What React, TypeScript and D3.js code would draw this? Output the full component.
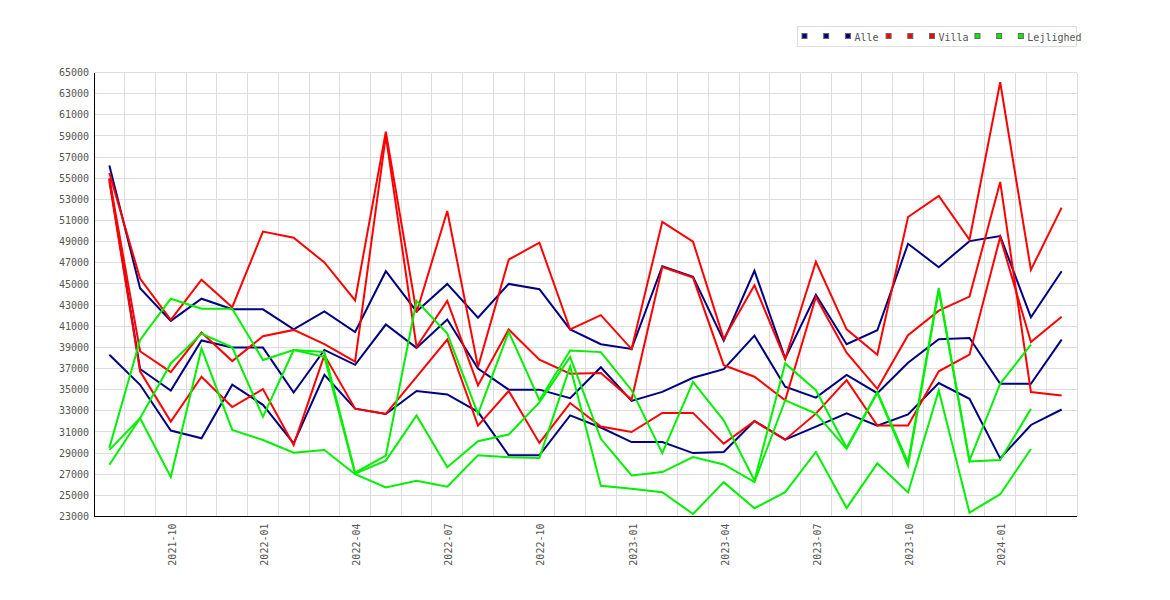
import * as d3 from "d3";

// monthly points, Aug 2021 - Mar 2024
const months = [
  "2021-08", "2021-09", "2021-10", "2021-11", "2021-12",
  "2022-01", "2022-02", "2022-03", "2022-04", "2022-05", "2022-06",
  "2022-07", "2022-08", "2022-09", "2022-10", "2022-11", "2022-12",
  "2023-01", "2023-02", "2023-03", "2023-04", "2023-05", "2023-06",
  "2023-07", "2023-08", "2023-09", "2023-10", "2023-11", "2023-12",
  "2024-01", "2024-02", "2024-03",
];

// Alle (navy)
const alleHigh = [
  56200, 44600, 41500, 43600, 42600, 42600, 40700, 42400, 40450, 46200, 42400,
  45000, 41800, 45000, 44500, 40700, 39300, 38850, 46680, 45670, 39630, 46240,
  37960, 43980, 39300, 40620, 48800, 46580, 49050, 49530, 41840, 46200,
];
const alleMid = [
  54900, 36950, 34920, 39650, 38980, 38980, 34720, 38760, 37350, 41160, 38950,
  41640, 36990, 35000, 35000, 34200, 37120, 33940, 34790, 36120, 36940, 40110,
  35270, 34250, 36400, 34670, 37550, 39770, 39890, 35560, 35560, 39730,
];
const alleLow = [
  38300, 35460, 31130, 30400, 35460, 33560, 29920, 36410, 33200, 32690, 34870,
  34550, 32900, 28790, 28790, 32560, 31420, 30040, 30040, 29000, 29100, 32040,
  30270, 31500, 32750, 31600, 32650, 35620, 34130, 28500, 31660, 33120,
];

// Villa (red)
const villaHigh = [
  55500, 45500, 41600, 45400, 42800, 49950, 49370, 47030, 43450, 59400, 42300,
  51900, 37150, 47300, 48900, 40690, 42050, 38840, 50870, 49000, 39800, 44870,
  37900, 47100, 40700, 38310, 51330, 53320, 49180, 64080, 46330, 52220,
];
const villaMid = [
  55000, 38630, 36660, 40400, 37700, 40050, 40650, 39300, 37650, 59000, 39050,
  43400, 35400, 40690, 37840, 36510, 36580, 34060, 46600, 45600, 37320, 36220,
  34000, 43760, 38500, 35080, 40150, 42470, 43800, 54650, 34770, 34450,
];
const villaLow = [
  54700, 36730, 31980, 36220, 33350, 35050, 29770, 38270, 33200, 32700, 36200,
  39740, 31600, 34870, 29960, 33730, 31510, 30990, 32800, 32800, 29890, 32010,
  30270, 32730, 35900, 31600, 31600, 36730, 38310, 49430, 39510, 41890,
];

// Lejlighed (green), no value for the last month
const lejlHigh = [
  29500, 39700, 43600, 42660, 42660, 37800, 38750, 38570, 27150, 28760, 43400,
  40300, 32700, 40470, 34000, 38700, 38550, 34950, 29000, 35740, 32100, 26400,
  37480, 34950, 29500, 34770, 28100, 44620, 28280, 35560, 39260,
];
const lejlMid = [
  29300, 32300, 37480, 40300, 39000, 32420, 38750, 38100, 27050, 28290, 32560,
  27650, 30120, 30760, 33800, 38100, 30350, 26880, 27200, 28620, 27920, 26250,
  34000, 32730, 29400, 34700, 27800, 44400, 28200, 28340, 33180,
];
const lejlLow = [
  27900, 32300, 26740, 38900, 31190, 30240, 29040, 29290, 27000, 25750, 26390,
  25820, 28790, 28600, 28540, 37200, 25900, 25620, 25300, 23240, 26250, 23780,
  25300, 29100, 23800, 28030, 25270, 34920, 23370, 25110, 29390,
];

const yTicks = d3.range(23000, 65001, 2000);
const labelMonths = ["01", "04", "07", "10"];

const NAVY = "#000080";
const RED = "#ff0000";
const GREEN = "#00f000";

const series = [
  { label: "", color: NAVY, values: alleHigh },
  { label: "", color: NAVY, values: alleMid },
  { label: "Alle", color: NAVY, values: alleLow },
  { label: "", color: RED, values: villaHigh },
  { label: "", color: RED, values: villaMid },
  { label: "Villa", color: RED, values: villaLow },
  { label: "", color: GREEN, values: lejlHigh },
  { label: "", color: GREEN, values: lejlMid },
  { label: "Lejlighed", color: GREEN, values: lejlLow },
];

const W = 1170;
const H = 600;
const left = 94;
const right = 1077;
const top = 72.5;
const bottom = 516.5;
const font = "'DejaVu Sans Mono', monospace";

export default function App() {
  const x = d3.scaleBand<string>().domain(months).range([left, right]).padding(0);
  const cx = (m: string) => (x(m) ?? 0) + x.bandwidth() / 2;
  const y = d3.scaleLinear().domain([23000, 65000]).range([bottom, top]);

  const line = d3
    .line<number>()
    .x((_, i) => cx(months[i]))
    .y((d) => y(d));

  const boundaries = months.map((m) => x(m) ?? 0).slice(1).concat([right]);

  // legend: each entry is a square plus its (possibly empty) label
  let lx = 802;
  const legend = series.map((s) => {
    const e = { ...s, x: lx };
    lx += 21.7 + s.label.length * 4.75;
    return e;
  });

  return (
    <div style={{ position: "absolute", left: 0, top: 0, background: "#fff" }}>
      <svg width={W} height={H} style={{ display: "block" }}>
        <rect width={W} height={H} fill="#fff" />

        {/* grid */}
        <g stroke="#dddddd" strokeWidth={1} shapeRendering="crispEdges">
          {yTicks.map((t) => (
            <line key={t} x1={left} x2={right} y1={y(t)} y2={y(t)} />
          ))}
          {boundaries.map((b, i) => (
            <line key={i} x1={b} x2={b} y1={top} y2={bottom} />
          ))}
        </g>

        {/* series */}
        {series.map((s, i) => (
          <path
            key={i}
            d={line(s.values) ?? ""}
            fill="none"
            stroke={s.color}
            strokeWidth={2}
            strokeLinejoin="miter"
          />
        ))}

        {/* axes */}
        <g stroke="#000" strokeWidth={1} shapeRendering="crispEdges">
          <line x1={left} x2={left} y1={top} y2={bottom} />
          <line x1={left} x2={right} y1={bottom} y2={bottom} />
        </g>

        <g fontFamily={font} fontSize={10} fill="#555">
          {yTicks.map((t) => (
            <text key={t} x={left - 5} y={y(t)} dy="0.36em" textAnchor="end">
              {t}
            </text>
          ))}
          {months
            .filter((m) => labelMonths.includes(m.slice(5)))
            .map((m) => (
              <text
                key={m}
                transform={`translate(${cx(m) + 5},${bottom + 7}) rotate(-90)`}
                textAnchor="end"
              >
                {m}
              </text>
            ))}
        </g>

        {/* legend */}
        <rect x={797.5} y={26.5} width={279} height={20} fill="#fff" stroke="#dddddd" />
        <g fontFamily={font} fontSize={10} fill="#555">
          {legend.map((e, i) => (
            <g key={i}>
              <rect x={e.x} y={33.5} width={5} height={5} fill={e.color} stroke="#666" strokeWidth={1} />
              {e.label && (
                <text x={e.x + 9} y={40.5}>
                  {e.label}
                </text>
              )}
            </g>
          ))}
        </g>
      </svg>
    </div>
  );
}
